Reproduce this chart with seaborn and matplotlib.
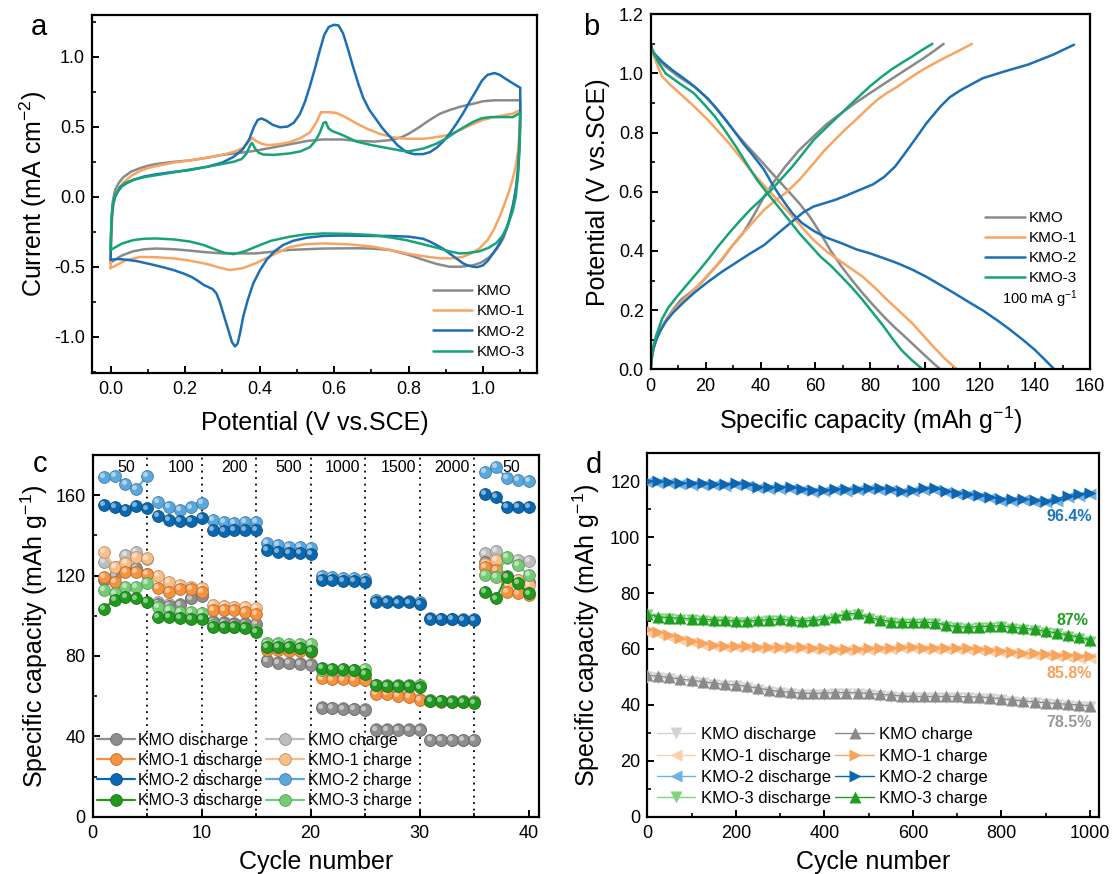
import matplotlib
matplotlib.use("Agg")
import matplotlib.pyplot as plt
import matplotlib.colors as mcolors
from matplotlib.transforms import offset_copy
from matplotlib.ticker import MultipleLocator, FormatStrFormatter
import numpy as np
import pandas as pd
import seaborn as sns

# ---------------- data ----------------
samples = ["KMO", "KMO-1", "KMO-2", "KMO-3"]

# (a) cyclic voltammetry loops: potential (V) / current density (mA cm-2)
cv_kmo_v = [0.0, 0.001, 0.003, 0.006, 0.012, 0.022, 0.034, 0.055, 0.079, 0.10, 0.123, 0.17, 0.213, 0.26,
            0.30, 0.35, 0.39, 0.44, 0.48, 0.53, 0.57, 0.62, 0.66, 0.71, 0.75, 0.78, 0.80, 0.83, 0.857,
            0.885, 0.91, 0.94, 0.973, 1.0, 1.03, 1.06, 1.09, 1.10,
            1.10, 1.097, 1.092, 1.085, 1.075, 1.065, 1.054, 1.038, 1.018, 0.995, 0.973, 0.94, 0.91,
            0.875, 0.839, 0.80, 0.75, 0.70, 0.66, 0.57, 0.48, 0.39, 0.30, 0.25, 0.213, 0.17, 0.123,
            0.09, 0.06, 0.03, 0.0]
cv_kmo_i = [-0.47, -0.30, -0.15, -0.03, 0.05, 0.10, 0.14, 0.18, 0.205, 0.222, 0.235, 0.25, 0.26, 0.28,
            0.30, 0.315, 0.33, 0.355, 0.375, 0.40, 0.41, 0.41, 0.40, 0.395, 0.405, 0.425, 0.45, 0.50, 0.55,
            0.595, 0.62, 0.645, 0.665, 0.683, 0.69, 0.69, 0.69, 0.69,
            0.50, 0.30, 0.12, 0.0, -0.12, -0.22, -0.30, -0.37, -0.43, -0.47, -0.49, -0.50, -0.50,
            -0.48, -0.45, -0.415, -0.38, -0.37, -0.368, -0.37, -0.38, -0.405, -0.405, -0.395, -0.385,
            -0.375, -0.37, -0.375, -0.39, -0.42, -0.47]

cv_kmo1_v = [0.0, 0.001, 0.003, 0.006, 0.012, 0.022, 0.034, 0.055, 0.079, 0.10, 0.123, 0.17, 0.213, 0.26,
             0.30, 0.335, 0.356, 0.37, 0.38, 0.39, 0.405, 0.42, 0.45, 0.48, 0.51, 0.535, 0.552, 0.565,
             0.585, 0.606, 0.63, 0.66, 0.69, 0.723, 0.76, 0.794, 0.84, 0.884, 0.91, 0.94, 0.973, 1.0,
             1.03, 1.06, 1.08, 1.10,
             1.098, 1.094, 1.088, 1.08, 1.07, 1.058, 1.045, 1.03, 1.012, 0.99, 0.968, 0.946, 0.915,
             0.884, 0.84, 0.794, 0.75, 0.705, 0.64, 0.57, 0.52, 0.48, 0.44, 0.39, 0.355, 0.32, 0.29,
             0.258, 0.21, 0.168, 0.12, 0.079, 0.04, 0.0]
cv_kmo1_i = [-0.51, -0.35, -0.20, -0.08, 0.0, 0.06, 0.10, 0.15, 0.185, 0.205, 0.22, 0.245, 0.26, 0.28,
             0.30, 0.325, 0.35, 0.39, 0.42, 0.40, 0.38, 0.37, 0.375, 0.39, 0.42, 0.46, 0.53, 0.605,
             0.605, 0.60, 0.57, 0.525, 0.485, 0.45, 0.425, 0.415, 0.415, 0.43, 0.445, 0.48, 0.52, 0.55,
             0.57, 0.585, 0.595, 0.62,
             0.45, 0.33, 0.22, 0.13, 0.04, -0.05, -0.14, -0.23, -0.31, -0.37, -0.405, -0.43, -0.44,
             -0.44, -0.425, -0.405, -0.38, -0.357, -0.34, -0.333, -0.34, -0.36, -0.41, -0.475, -0.51,
             -0.524, -0.505, -0.48, -0.455, -0.44, -0.432, -0.43, -0.455, -0.51]

cv_kmo2_v = [0.0, 0.001, 0.003, 0.007, 0.012, 0.02, 0.03, 0.045, 0.065, 0.09, 0.12, 0.16, 0.21, 0.26, 0.30,
             0.33, 0.355, 0.372, 0.385, 0.395, 0.405, 0.418, 0.435, 0.455, 0.475, 0.492, 0.508, 0.522,
             0.535, 0.55, 0.562, 0.574, 0.586, 0.60, 0.612, 0.624, 0.637, 0.651, 0.665, 0.678, 0.695,
             0.714, 0.73, 0.75, 0.77, 0.794, 0.815, 0.839, 0.858, 0.875, 0.893, 0.91, 0.928, 0.946,
             0.964, 0.982, 0.997, 1.012, 1.031, 1.045, 1.06, 1.075, 1.09, 1.10,
             1.10, 1.098, 1.094, 1.088, 1.08, 1.07, 1.058, 1.043, 1.027, 1.012, 1.0, 0.985, 0.973,
             0.958, 0.946, 0.928, 0.91, 0.892, 0.875, 0.857, 0.839, 0.80, 0.75, 0.70, 0.66, 0.615,
             0.57, 0.526, 0.49, 0.463, 0.44, 0.419, 0.40, 0.383, 0.368, 0.356, 0.348, 0.341, 0.334,
             0.326, 0.318, 0.31, 0.302, 0.293, 0.284, 0.274, 0.262, 0.25, 0.231, 0.215, 0.195, 0.17,
             0.15, 0.12, 0.097, 0.07, 0.043, 0.02, 0.0]
cv_kmo2_i = [-0.45, -0.30, -0.15, -0.05, 0.0, 0.04, 0.075, 0.10, 0.125, 0.145, 0.16, 0.175, 0.19, 0.215,
             0.245, 0.285, 0.34, 0.41, 0.50, 0.55, 0.56, 0.545, 0.515, 0.497, 0.502, 0.53, 0.59, 0.68,
             0.79, 0.93, 1.05, 1.16, 1.215, 1.23, 1.225, 1.17, 1.06, 0.93, 0.81, 0.71, 0.62,
             0.55, 0.49, 0.43, 0.37, 0.32, 0.305, 0.305, 0.32, 0.35, 0.395, 0.45, 0.52, 0.595,
             0.68, 0.76, 0.83, 0.872, 0.885, 0.872, 0.845, 0.82, 0.795, 0.78,
             0.60, 0.40, 0.20, 0.05, -0.07, -0.17, -0.26, -0.34, -0.405, -0.46, -0.49, -0.503, -0.50,
             -0.49, -0.475, -0.44, -0.405, -0.37, -0.345, -0.32, -0.30, -0.285, -0.28, -0.28, -0.278,
             -0.277, -0.28, -0.293, -0.315, -0.345, -0.39, -0.45, -0.53, -0.62, -0.74, -0.857, -0.97,
             -1.05, -1.07, -1.04, -0.97, -0.90, -0.83, -0.75, -0.69, -0.66, -0.645, -0.63, -0.595,
             -0.57, -0.548, -0.525, -0.51, -0.49, -0.476, -0.46, -0.45, -0.445, -0.45]

cv_kmo3_v = [0.0, 0.001, 0.003, 0.006, 0.012, 0.025, 0.04, 0.06, 0.09, 0.123, 0.17, 0.213, 0.26, 0.30,
             0.33, 0.352, 0.365, 0.375, 0.38, 0.388, 0.398, 0.41, 0.44, 0.48, 0.51, 0.535, 0.55, 0.562,
             0.572, 0.578, 0.585, 0.595, 0.61, 0.624, 0.64, 0.66, 0.70, 0.75, 0.78, 0.80, 0.84, 0.875,
             0.90, 0.928, 0.95, 0.973, 0.995, 1.018, 1.05, 1.08, 1.10,
             1.099, 1.097, 1.094, 1.088, 1.08, 1.066, 1.052, 1.036, 1.015, 0.99, 0.96, 0.937, 0.91,
             0.884, 0.84, 0.794, 0.75, 0.705, 0.64, 0.57, 0.52, 0.48, 0.43, 0.39, 0.36, 0.33, 0.305,
             0.284, 0.25, 0.213, 0.17, 0.123, 0.09, 0.06, 0.03, 0.0]
cv_kmo3_i = [-0.38, -0.25, -0.13, -0.05, 0.01, 0.07, 0.10, 0.12, 0.14, 0.155, 0.175, 0.195, 0.215, 0.235,
             0.25, 0.27, 0.31, 0.37, 0.385, 0.345, 0.315, 0.302, 0.30, 0.31, 0.325, 0.355, 0.40, 0.46,
             0.53, 0.535, 0.49, 0.47, 0.455, 0.44, 0.42, 0.395, 0.37, 0.345, 0.33, 0.325, 0.345, 0.38,
             0.415, 0.465, 0.50, 0.535, 0.56, 0.57, 0.57, 0.57, 0.60,
             0.45, 0.30, 0.15, 0.0, -0.10, -0.21, -0.28, -0.33, -0.365, -0.39, -0.402, -0.405, -0.39,
             -0.37, -0.34, -0.31, -0.29, -0.274, -0.265, -0.262, -0.27, -0.286, -0.315, -0.357, -0.39,
             -0.41, -0.40, -0.38, -0.345, -0.32, -0.305, -0.298, -0.30, -0.31, -0.335, -0.38]

# (b) galvanostatic charge / discharge at 100 mA g-1: capacity (mAh g-1) / potential (V)
chg_kmo_q = [0, 0.3, 1.0, 2.0, 3.5, 5.4, 8.0, 11.0, 14.5, 18.2, 22.0, 25.9, 29.5, 33.6, 37.5, 41.3, 45.0,
             49.0, 54.0, 59.3, 64.0, 69.5, 74.5, 79.8, 85.0, 90.0, 95.0, 100.3, 103.5, 106.7]
chg_kmo_v = [0, 0.035, 0.07, 0.10, 0.135, 0.165, 0.20, 0.235, 0.26, 0.29, 0.33, 0.37, 0.415, 0.46, 0.52,
             0.584, 0.635, 0.685, 0.74, 0.787, 0.828, 0.866, 0.90, 0.933, 0.965, 0.995, 1.025, 1.057,
             1.078, 1.10]
dis_kmo_q = [0, 0.5, 1.5, 3.0, 5.4, 10.0, 15.7, 19.5, 23.4, 27.2, 31.0, 34.8, 38.7, 42.5, 46.4, 50.3,
             54.1, 58.0, 61.8, 65.6, 69.5, 73.4, 77.2, 81.0, 84.9, 88.7, 92.6, 96.5, 100.3, 103.0, 105.5]
dis_kmo_v = [1.10, 1.08, 1.06, 1.045, 1.023, 0.99, 0.956, 0.925, 0.888, 0.845, 0.798, 0.758, 0.719,
             0.68, 0.64, 0.60, 0.561, 0.515, 0.46, 0.40, 0.347, 0.30, 0.257, 0.217, 0.178, 0.143, 0.11,
             0.076, 0.043, 0.02, 0]

chg_kmo1_q = [0, 0.3, 1.0, 2.0, 3.5, 5.4, 8.0, 11.5, 15.7, 20.0, 24.6, 29.0, 33.6, 37.5, 41.3, 45.0,
              49.0, 54.1, 59.3, 63.0, 67.0, 70.8, 74.7, 78.5, 82.4, 86.2, 90.0, 94.5, 99.0, 103.5, 108.0,
              112.5, 117.0]
chg_kmo1_v = [0, 0.035, 0.07, 0.10, 0.135, 0.163, 0.195, 0.23, 0.268, 0.31, 0.358, 0.41, 0.46, 0.50,
              0.539, 0.568, 0.595, 0.64, 0.696, 0.737, 0.775, 0.81, 0.843, 0.877, 0.91, 0.935, 0.956,
              0.985, 1.012, 1.035, 1.057, 1.078, 1.10]
dis_kmo1_q = [0, 0.5, 1.5, 2.5, 4.1, 7.5, 11.8, 16.3, 20.8, 24.6, 28.5, 32.3, 36.2, 40.0, 43.9, 47.7,
              51.6, 55.5, 59.3, 63.8, 68.3, 72.7, 77.2, 81.7, 86.2, 90.7, 95.2, 99.0, 102.9, 107.0, 111.5]
dis_kmo1_v = [1.10, 1.075, 1.05, 1.025, 0.99, 0.958, 0.922, 0.884, 0.843, 0.804, 0.764, 0.72, 0.674,
              0.634, 0.595, 0.556, 0.516, 0.476, 0.437, 0.40, 0.37, 0.342, 0.313, 0.275, 0.234, 0.195,
              0.156, 0.117, 0.077, 0.037, 0]

chg_kmo2_q = [0, 0.3, 1.0, 2.0, 3.5, 5.4, 8.0, 11.8, 16.0, 20.8, 26.0, 31.0, 36.0, 41.3, 46.4, 51.6,
              55.5, 59.3, 67.0, 72.0, 76.0, 81.0, 85.0, 89.0, 92.6, 96.5, 100.3, 105.5, 109.0, 113.0,
              121.0, 128.6, 137.5, 146.5, 154.2]
chg_kmo2_v = [0, 0.035, 0.07, 0.10, 0.13, 0.16, 0.19, 0.225, 0.26, 0.295, 0.33, 0.36, 0.39, 0.42,
              0.46, 0.50, 0.53, 0.55, 0.572, 0.59, 0.606, 0.625, 0.65, 0.685, 0.73, 0.78, 0.83, 0.888,
              0.92, 0.944, 0.984, 1.006, 1.03, 1.063, 1.097]
dis_kmo2_q = [0, 0.5, 1.5, 4.1, 8.0, 11.8, 16.0, 20.8, 24.0, 27.2, 30.4, 33.6, 37.5, 41.3, 44.0, 46.4,
              49.0, 51.6, 55.0, 59.3, 64.0, 69.5, 75.0, 79.8, 85.0, 90.0, 95.0, 100.3, 105.5, 110.6,
              115.7, 120.8, 126.0, 131.0, 135.5, 140.0, 143.5, 147.0]
dis_kmo2_v = [1.10, 1.08, 1.065, 1.04, 1.01, 0.985, 0.955, 0.915, 0.88, 0.843, 0.805, 0.764, 0.72,
              0.674, 0.63, 0.595, 0.56, 0.527, 0.495, 0.468, 0.445, 0.426, 0.405, 0.392, 0.375, 0.358,
              0.338, 0.313, 0.285, 0.257, 0.228, 0.20, 0.167, 0.133, 0.10, 0.065, 0.033, 0]

chg_kmo3_q = [0, 0.3, 1.0, 2.0, 4.1, 6.5, 9.5, 13.1, 16.8, 20.8, 24.5, 28.5, 32.3, 36.2, 40.0, 43.9,
              47.7, 51.6, 55.5, 59.3, 64.5, 69.5, 74.7, 79.8, 83.6, 87.5, 91.3, 95.2, 99.0, 102.6]
chg_kmo3_v = [0, 0.04, 0.08, 0.115, 0.17, 0.21, 0.245, 0.285, 0.325, 0.37, 0.415, 0.46, 0.50, 0.539,
              0.572, 0.606, 0.645, 0.685, 0.73, 0.775, 0.822, 0.866, 0.912, 0.956, 0.985, 1.012, 1.035,
              1.057, 1.08, 1.10]
dis_kmo3_q = [0, 0.5, 1.5, 3.0, 5.4, 10.5, 15.7, 19.5, 23.4, 27.2, 31.0, 34.8, 38.7, 42.5, 46.4, 50.3,
              54.1, 58.0, 61.8, 65.6, 69.5, 73.4, 77.2, 81.0, 84.9, 88.1, 91.3, 95.2, 99.0]
dis_kmo3_v = [1.10, 1.08, 1.06, 1.035, 1.0, 0.966, 0.933, 0.895, 0.854, 0.805, 0.753, 0.697, 0.64,
              0.595, 0.55, 0.505, 0.46, 0.42, 0.381, 0.35, 0.313, 0.275, 0.234, 0.19, 0.144, 0.103,
              0.065, 0.03, 0]

# (c) rate capability, 5 cycles per current density (mA g-1)
rate_cycles = list(range(1, 41))
rate_labels = ["50", "100", "200", "500", "1000", "1500", "2000", "50"]
rate_label_x = [3.1, 8.1, 13.0, 18.0, 22.9, 28.1, 33.0, 38.4]
rate_edges = [5, 10, 15, 20, 25, 30, 35]

rate_kmo_dis = [118.0, 120.0, 123.0, 124.0, 121.0, 106.0, 104.8, 105.3, 108.6, 110.0,
                97.0, 96.2, 95.8, 95.8, 96.0, 77.4, 76.6, 76.3, 75.9, 75.4,
                54.2, 53.9, 53.6, 53.4, 53.1, 43.1, 43.1, 43.1, 43.1, 43.1,
                38.1, 38.1, 38.1, 38.1, 38.1, 127.0, 125.0, 120.0, 118.0, 117.0]
rate_kmo_chg = [126.8, 124.4, 130.2, 131.8, 128.0, 107.0, 106.0, 105.8, 108.6, 111.0,
                97.5, 97.0, 96.5, 96.5, 96.0, 77.8, 77.0, 76.7, 76.3, 75.8,
                54.6, 54.3, 54.0, 53.8, 53.5, 43.5, 43.5, 43.4, 43.4, 43.4,
                38.4, 38.4, 38.4, 38.4, 38.4, 131.0, 132.3, 128.5, 127.7, 127.3]
rate_kmo1_dis = [119.4, 116.9, 121.9, 121.9, 121.0, 113.6, 111.9, 113.1, 113.1, 111.9,
                 102.8, 102.8, 102.8, 102.0, 101.1, 82.9, 82.9, 82.6, 82.6, 82.0,
                 68.8, 68.3, 68.3, 68.0, 68.0, 61.3, 60.9, 60.2, 59.7, 58.0,
                 57.7, 57.2, 57.2, 56.9, 56.9, 124.4, 122.7, 111.9, 111.1, 110.3]
rate_kmo1_chg = [131.8, 124.4, 126.3, 129.3, 128.5, 119.7, 116.9, 115.2, 114.4, 113.6,
                 105.3, 104.8, 104.5, 104.5, 104.1, 84.0, 83.8, 83.6, 83.6, 83.3,
                 69.5, 69.2, 69.0, 68.9, 68.8, 62.0, 61.6, 61.0, 60.5, 58.8,
                 58.2, 57.8, 57.7, 57.5, 57.4, 126.0, 127.7, 115.2, 117.7, 115.2]
rate_kmo2_dis = [155.0, 154.2, 152.5, 154.5, 153.4, 149.6, 147.9, 147.2, 147.1, 148.7,
                 142.9, 142.3, 142.6, 142.9, 142.9, 132.6, 131.8, 131.3, 131.3, 130.7,
                 118.0, 117.7, 117.4, 117.4, 116.9, 107.0, 107.0, 106.6, 106.6, 106.1,
                 98.3, 98.2, 98.2, 97.8, 97.8, 160.8, 159.2, 154.2, 154.2, 154.2]
rate_kmo2_chg = [169.1, 169.6, 165.8, 163.3, 169.6, 156.7, 154.2, 152.5, 153.9, 156.2,
                 147.6, 146.7, 146.2, 146.6, 146.7, 136.0, 135.0, 134.0, 134.0, 133.5,
                 119.9, 119.4, 119.0, 119.0, 118.2, 107.8, 107.5, 107.3, 107.3, 107.0,
                 98.8, 98.6, 98.5, 98.4, 98.3, 171.6, 174.0, 168.5, 167.5, 167.3]
rate_kmo3_dis = [103.6, 107.8, 109.4, 108.6, 107.0, 99.5, 99.2, 98.7, 98.3, 98.3,
                 94.5, 94.2, 94.2, 93.7, 92.0, 84.6, 84.6, 84.6, 84.2, 82.6,
                 73.8, 73.3, 73.3, 73.0, 71.0, 65.5, 65.2, 65.2, 65.0, 64.3,
                 57.7, 57.5, 57.2, 56.9, 56.4, 111.9, 108.6, 119.4, 116.1, 111.1]
rate_kmo3_chg = [112.7, 111.1, 114.4, 114.4, 116.5, 104.5, 102.8, 102.0, 102.0, 101.5,
                 95.3, 94.5, 94.5, 94.5, 92.9, 86.2, 86.2, 85.9, 85.9, 85.9,
                 73.0, 73.0, 73.0, 73.0, 73.3, 65.5, 65.5, 65.5, 65.5, 65.5,
                 58.0, 57.8, 57.6, 57.4, 57.2, 120.2, 119.4, 129.3, 125.2, 120.2]

# (d) long-term cycling, one point every 25 cycles
life_cycles = list(range(0, 1001, 25))
life_kmo_dis = [50.0, 49.7, 49.2, 48.6, 48.2, 47.7, 47.2, 46.7, 46.6, 46.0, 45.4, 44.7, 44.2, 43.9, 43.6,
                43.5, 43.6, 43.8, 43.8, 43.8, 43.5, 43.2, 42.9, 42.6, 42.4, 42.4, 42.4, 42.4, 42.4, 42.3,
                42.2, 42.0, 41.6, 41.2, 40.8, 40.5, 40.2, 39.9, 39.6, 39.4, 39.1]
life_kmo_chg = [50.6, 50.3, 49.8, 49.2, 48.8, 48.3, 47.8, 47.3, 47.2, 46.6, 46.0, 45.3, 44.8, 44.5, 44.2,
                44.1, 44.2, 44.4, 44.4, 44.4, 44.1, 43.8, 43.5, 43.2, 43.0, 43.0, 43.0, 43.0, 43.0, 42.9,
                42.8, 42.6, 42.2, 41.8, 41.4, 41.1, 40.8, 40.5, 40.2, 40.0, 39.7]
life_kmo1_dis = [66.0, 65.3, 64.2, 63.3, 62.4, 61.5, 61.0, 60.6, 60.6, 60.6, 60.4, 60.2, 60.3, 60.3, 60.2,
                 60.0, 59.8, 59.6, 59.6, 59.6, 59.8, 60.0, 60.1, 60.2, 60.2, 60.1, 60.0, 59.9, 59.9, 59.8,
                 59.6, 59.4, 59.0, 58.6, 58.3, 58.0, 57.8, 57.4, 57.1, 56.8, 56.6]
life_kmo1_chg = [67.0, 66.0, 65.0, 64.0, 63.0, 62.0, 61.5, 61.0, 61.0, 61.0, 60.8, 60.6, 60.7, 60.7, 60.6,
                 60.4, 60.2, 60.0, 60.0, 60.0, 60.2, 60.4, 60.5, 60.6, 60.6, 60.5, 60.4, 60.3, 60.3, 60.2,
                 60.0, 59.8, 59.4, 59.0, 58.7, 58.4, 58.2, 57.9, 57.7, 57.6, 57.5]
life_kmo2_dis = [119.6, 119.5, 119.2, 119.0, 118.8, 118.7, 118.5, 118.4, 118.8, 118.3, 117.5, 117.3, 117.4,
                 117.2, 116.9, 116.3, 116.4, 116.7, 116.6, 116.7, 117.1, 117.0, 116.8, 116.0, 116.4, 117.0,
                 117.0, 116.1, 115.3, 115.0, 114.5, 113.9, 113.1, 113.0, 113.3, 112.7, 112.4, 113.1, 114.4,
                 114.8, 115.3]
life_kmo2_chg = [120.2, 120.0, 119.7, 119.5, 119.3, 119.2, 119.0, 118.9, 119.4, 118.9, 118.0, 117.8, 117.9,
                 117.8, 117.4, 116.8, 116.9, 117.2, 117.1, 117.2, 117.6, 117.5, 117.3, 116.5, 116.9, 117.5,
                 117.5, 116.6, 115.8, 115.5, 115.0, 114.4, 113.6, 113.5, 113.8, 113.2, 112.9, 113.6, 114.9,
                 115.3, 115.9]
life_kmo3_dis = [72.0, 70.9, 70.6, 70.4, 70.2, 70.0, 69.8, 69.6, 69.4, 69.4, 69.6, 69.9, 70.0, 69.7, 69.4,
                 69.6, 70.1, 70.9, 71.9, 72.1, 70.7, 69.9, 69.2, 68.9, 68.9, 68.9, 68.8, 68.0, 67.4, 67.2,
                 67.4, 67.6, 67.7, 67.2, 66.8, 66.4, 65.7, 65.2, 64.4, 63.7, 62.6]
life_kmo3_chg = [72.6, 71.5, 71.2, 71.0, 70.8, 70.6, 70.4, 70.2, 70.0, 70.0, 70.2, 70.5, 70.6, 70.3, 70.0,
                 70.2, 70.7, 71.5, 72.5, 72.7, 71.3, 70.5, 69.8, 69.5, 69.5, 69.5, 69.4, 68.6, 68.0, 67.8,
                 68.0, 68.2, 68.3, 67.8, 67.4, 67.0, 66.3, 65.8, 65.0, 64.3, 63.2]
retention_labels = ["96.4%", "87%", "85.8%", "78.5%"]

# ---------------- style ----------------
sns.set_theme(style="ticks")
plt.rcParams.update({
    "font.family": ["Liberation Sans", "DejaVu Sans"],
    "mathtext.fontset": "custom",
    "mathtext.rm": "Liberation Sans",
    "mathtext.it": "Liberation Sans:italic",
    "mathtext.bf": "Liberation Sans:bold",
    "axes.unicode_minus": False,
    "axes.linewidth": 1.6,
    "axes.edgecolor": "black",
    "axes.labelcolor": "black",
    "text.color": "black",
    "xtick.color": "black",
    "ytick.color": "black",
    "xtick.direction": "in",
    "ytick.direction": "in",
    "xtick.major.size": 5,
    "ytick.major.size": 5,
    "xtick.minor.size": 3,
    "ytick.minor.size": 3,
    "xtick.major.width": 1.4,
    "ytick.major.width": 1.4,
    "xtick.minor.width": 1.2,
    "ytick.minor.width": 1.2,
    "xtick.major.pad": 6,
    "ytick.major.pad": 5,
    "xtick.labelsize": 13,
    "ytick.labelsize": 13,
    "axes.labelsize": 18,
})

line_cols = {"KMO": "#8a8a8a", "KMO-1": "#f8a562", "KMO-2": "#1c6fb4", "KMO-3": "#17a378"}

fig = plt.figure(figsize=(11.13, 8.74), dpi=100)
ax_a = fig.add_axes([0.08266, 0.57323, 0.39982, 0.40961])
ax_b = fig.add_axes([0.5847, 0.5775, 0.3946, 0.4062])
ax_c = fig.add_axes([0.08338, 0.06556, 0.40126, 0.41384])
ax_d = fig.add_axes([0.58158, 0.06556, 0.40557, 0.41579])


def ticks(ax, xmaj, xmin, ymaj, ymin):
    ax.xaxis.set_major_locator(MultipleLocator(xmaj))
    ax.xaxis.set_minor_locator(MultipleLocator(xmin))
    ax.yaxis.set_major_locator(MultipleLocator(ymaj))
    ax.yaxis.set_minor_locator(MultipleLocator(ymin))
    ax.tick_params(which="both", top=False, right=False)


# ---------------- (a) CV ----------------
cv_sets = [(cv_kmo_v, cv_kmo_i), (cv_kmo1_v, cv_kmo1_i), (cv_kmo2_v, cv_kmo2_i), (cv_kmo3_v, cv_kmo3_i)]
for name, (v, i) in zip(samples, cv_sets):
    sns.lineplot(x=v, y=i, sort=False, estimator=None, color=line_cols[name], lw=1.8,
                 label=name, ax=ax_a)
ax_a.set_xlim(-0.05, 1.145)
ax_a.set_ylim(-1.26, 1.30)
ticks(ax_a, 0.2, 0.1, 0.5, 0.25)
ax_a.xaxis.set_major_formatter(FormatStrFormatter("%.1f"))
ax_a.yaxis.set_major_formatter(FormatStrFormatter("%.1f"))
ax_a.set_xlabel("Potential (V vs.SCE)", labelpad=9)
ax_a.set_ylabel("Current (mA cm$^{-2}$)", labelpad=4)
ax_a.legend(loc="upper left", bbox_to_anchor=(0.767, 0.249), frameon=False, fontsize=11,
            handlelength=2.5, handletextpad=0.37, labelspacing=0.42, borderpad=0, borderaxespad=0)

# ---------------- (b) GCD ----------------
gcd_sets = [(chg_kmo_q, chg_kmo_v, dis_kmo_q, dis_kmo_v),
            (chg_kmo1_q, chg_kmo1_v, dis_kmo1_q, dis_kmo1_v),
            (chg_kmo2_q, chg_kmo2_v, dis_kmo2_q, dis_kmo2_v),
            (chg_kmo3_q, chg_kmo3_v, dis_kmo3_q, dis_kmo3_v)]
for name, (cq, cv, dq, dv) in zip(samples, gcd_sets):
    sns.lineplot(x=cq, y=cv, sort=False, estimator=None, color=line_cols[name], lw=1.8,
                 label=name, ax=ax_b)
    sns.lineplot(x=dq, y=dv, sort=False, estimator=None, color=line_cols[name], lw=1.8, ax=ax_b)
ax_b.set_xlim(0, 160)
ax_b.set_ylim(0, 1.2)
ticks(ax_b, 20, 10, 0.2, 0.1)
ax_b.yaxis.set_major_formatter(FormatStrFormatter("%.1f"))
ax_b.set_xlabel("Specific capacity (mAh g$^{-1}$)", labelpad=7)
ax_b.set_ylabel("Potential (V vs.SCE)", labelpad=6)
ax_b.legend(loc="upper left", bbox_to_anchor=(0.761, 0.446), frameon=False, fontsize=11,
            handlelength=2.6, handletextpad=0.25, labelspacing=0.4, borderpad=0, borderaxespad=0)
ax_b.text(127.8, 0.237, "100 mA g$^{-1}$", fontsize=10.5, ha="left", va="center")

# ---------------- (c) rate capability ----------------
rate_df = pd.DataFrame({
    "cycle": rate_cycles,
    "KMO discharge": rate_kmo_dis, "KMO charge": rate_kmo_chg,
    "KMO-1 discharge": rate_kmo1_dis, "KMO-1 charge": rate_kmo1_chg,
    "KMO-2 discharge": rate_kmo2_dis, "KMO-2 charge": rate_kmo2_chg,
    "KMO-3 discharge": rate_kmo3_dis, "KMO-3 charge": rate_kmo3_chg,
})
# one connected trace per current-density step
rate_df["step"] = (rate_df["cycle"] - 1) // 5
rate_cols = {
    "KMO discharge": "#8e8e8e", "KMO charge": "#bdbdbd",
    "KMO-1 discharge": "#f6913d", "KMO-1 charge": "#fbbd88",
    "KMO-2 discharge": "#0a68b0", "KMO-2 charge": "#5aa7dd",
    "KMO-3 discharge": "#1f9a1f", "KMO-3 charge": "#76cc76",
}
for xe in rate_edges:
    ax_c.axvline(xe, color="black", ls=(0, (1, 2.6)), lw=1.3, zorder=1)

shine = offset_copy(ax_c.transData, fig=fig, x=-1.4, y=1.4, units="points")
rate_order = ["KMO charge", "KMO discharge", "KMO-1 charge", "KMO-1 discharge",
              "KMO-3 charge", "KMO-3 discharge", "KMO-2 charge", "KMO-2 discharge"]
for z, key in enumerate(rate_order):
    col = rate_cols[key]
    dark = tuple(0.75 * c for c in mcolors.to_rgb(col))
    light = tuple(c + 0.55 * (1 - c) for c in mcolors.to_rgb(col))
    for step, sub in rate_df.groupby("step"):
        sns.lineplot(data=sub, x="cycle", y=key, color=col, lw=1.6, marker="o", markersize=8.5,
                     markeredgecolor=dark, markeredgewidth=0.6,
                     label=key if step == 0 else None, ax=ax_c, zorder=3 + z)
    ax_c.plot(rate_df["cycle"], rate_df[key], ls="none", marker="o", ms=3.6, color=light,
              mec="none", alpha=0.9, transform=shine, zorder=3 + z)
for lab, xl in zip(rate_labels, rate_label_x):
    ax_c.text(xl, 174, lab, ha="center", va="center", fontsize=11.5)
ax_c.set_xlim(0, 41)
ax_c.set_ylim(0, 180)
ticks(ax_c, 10, 5, 40, 20)
ax_c.set_xlabel("Cycle number", labelpad=6)
ax_c.set_ylabel("Specific capacity (mAh g$^{-1}$)", labelpad=4)
h, l = ax_c.get_legend_handles_labels()
hd = dict(zip(l, h))
leg_c = ["KMO discharge", "KMO-1 discharge", "KMO-2 discharge", "KMO-3 discharge",
         "KMO charge", "KMO-1 charge", "KMO-2 charge", "KMO-3 charge"]
ax_c.legend([hd[k] for k in leg_c], leg_c, ncol=2, loc="upper left", bbox_to_anchor=(0.009, 0.232),
            frameon=False, fontsize=11.5, handlelength=2.4, handletextpad=0.2, columnspacing=0.2,
            labelspacing=0.32, borderpad=0, borderaxespad=0, numpoints=1)

# ---------------- (d) cycling stability ----------------
life_df = pd.DataFrame({
    "cycle": life_cycles,
    "KMO discharge": life_kmo_dis, "KMO charge": life_kmo_chg,
    "KMO-1 discharge": life_kmo1_dis, "KMO-1 charge": life_kmo1_chg,
    "KMO-2 discharge": life_kmo2_dis, "KMO-2 charge": life_kmo2_chg,
    "KMO-3 discharge": life_kmo3_dis, "KMO-3 charge": life_kmo3_chg,
})
life_style = {
    "KMO discharge": ("#d2d2d2", "v"), "KMO charge": ("#8a8a8a", "^"),
    "KMO-1 discharge": ("#fbcfa8", "<"), "KMO-1 charge": ("#f7a35c", ">"),
    "KMO-2 discharge": ("#6fb1e2", "<"), "KMO-2 charge": ("#0e66b3", ">"),
    "KMO-3 discharge": ("#82d282", "v"), "KMO-3 charge": ("#1f9f1f", "^"),
}
for key in leg_c:
    col, mk = life_style[key]
    sns.lineplot(data=life_df, x="cycle", y=key, color=col, lw=1.0, marker=mk, markersize=8.5,
                 markeredgecolor="none", label=key, ax=ax_d,
                 zorder=3 if "discharge" in key else 4)
ret_y = [107.4, 70.2, 51.2, 33.6]
ret_x = [1004, 996, 1004, 1004]
ret_cols = ["#1b74bf", "#1f9f1f", "#f7a35c", "#9a9a9a"]
for txt, xt, yt, ct in zip(retention_labels, ret_x, ret_y, ret_cols):
    ax_d.text(xt, yt, txt, ha="right", va="center", fontsize=11.5, fontweight="bold", color=ct)
ax_d.set_xlim(0, 1020)
ax_d.set_ylim(0, 130)
ticks(ax_d, 200, 100, 20, 10)
ax_d.set_xlabel("Cycle number", labelpad=6)
ax_d.set_ylabel("Specific capacity (mAh g$^{-1}$)", labelpad=6)
h, l = ax_d.get_legend_handles_labels()
hd = dict(zip(l, h))
ax_d.legend([hd[k] for k in leg_c], leg_c, ncol=2, loc="upper left", bbox_to_anchor=(0.021, 0.246),
            frameon=False, fontsize=12, handlelength=2.3, handletextpad=0.34, columnspacing=0.28,
            labelspacing=0.38, borderpad=0, borderaxespad=0, numpoints=1)

# ---------------- panel letters ----------------
for letter, px, py in [("a", 38.5, 35), ("b", 591, 35), ("c", 40, 472), ("d", 594, 473)]:
    fig.text(px / 1113, 1 - py / 874, letter, fontsize=21, ha="center", va="baseline")

fig.savefig("out.png", dpi=100)
